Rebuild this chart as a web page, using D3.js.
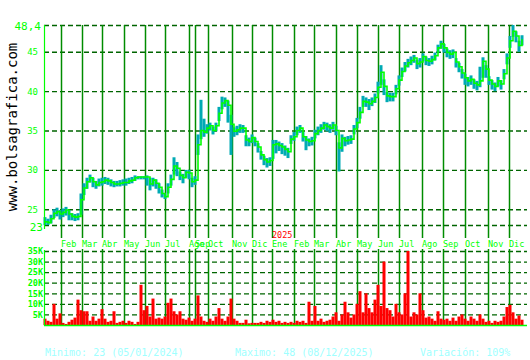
<!DOCTYPE html>
<html>
<head>
<meta charset="utf-8">
<script src="https://cdn.jsdelivr.net/npm/d3@7"></script>
<style>
  body { margin: 0; background: #fff; }
  svg { display: block; }
  text { font-family: "DejaVu Sans Mono", "Liberation Mono", monospace; }
</style>
</head>
<body>
<div id="chart"></div>
<script>
// sessions are counted from the first trading day, one point every 3 sessions
const firstSession = 1;
const sessionStep = 3;
const totalSessions = 480;

// month boundaries (session index) and labels
const monthSessions = [17, 38, 58, 80, 101, 121, 145, 151, 164, 188, 208, 228, 250, 270, 292, 313, 334, 355, 378, 399, 421, 444, 465];
const monthLabels = ["Feb", "Mar", "Abr", "May", "Jun", "Jul", "Ago", "Sep", "Oct", "Nov", "Dic", "Ene", "Feb", "Mar", "Abr", "May", "Jun", "Jul", "Ago", "Sep", "Oct", "Nov", "Dic"];
const yearLabel = "2025";
const yearMonthIndex = 11;

const closes = [
  23.4, 23.3, 23.8, 24.5, 24.7, 24.4, 24.6, 24.9, 24.4, 24.1,
  24.0, 24.1, 26.2, 27.7, 28.5, 29.0, 28.5, 28.1, 28.4, 28.5,
  28.7, 28.6, 28.4, 28.2, 28.2, 28.3, 28.4, 28.4, 28.6, 28.7,
  29.0, 29.1, 29.1, 29.1, 29.1, 28.2, 28.7, 28.3, 27.8, 27.0,
  26.6, 27.8, 28.8, 30.5, 30.2, 29.3, 29.0, 29.7, 29.6, 28.5,
  28.7, 33.2, 35.0, 34.8, 35.3, 35.6, 35.0, 35.6, 37.2, 38.5,
  38.8, 38.2, 35.8, 34.9, 35.1, 35.3, 35.3, 33.8, 33.6, 34.1,
  33.6, 32.9, 31.9, 31.3, 31.0, 31.2, 33.2, 33.3, 33.1, 32.9,
  32.6, 32.3, 33.9, 34.2, 35.0, 35.3, 34.2, 33.8, 33.6, 33.7,
  34.6, 35.0, 35.3, 35.7, 35.5, 35.3, 35.7, 35.0, 32.8, 34.0,
  33.7, 33.8, 33.9, 35.2, 36.0, 37.3, 38.7, 38.6, 38.4, 38.7,
  39.2, 40.5, 42.4, 40.6, 39.4, 39.3, 39.3, 40.3, 41.4, 42.5,
  43.2, 43.6, 43.9, 44.2, 43.5, 43.7, 44.4, 43.9, 43.8, 44.0,
  44.5, 45.5, 46.0, 45.5, 44.9, 44.7, 44.9, 43.7, 43.1, 42.3,
  41.7, 41.3, 41.5, 41.0, 40.8, 41.3, 43.8, 42.8, 41.4, 40.9,
  40.6, 41.3, 40.9, 42.2, 44.2, 46.4, 47.6, 47.0, 45.8, 46.6
];

const highs = [
  24.0, 23.8, 24.3, 25.0, 25.2, 24.9, 25.1, 25.3, 24.9, 24.5,
  24.4, 24.5, 27.0, 28.3, 29.0, 29.4, 29.0, 28.6, 28.9, 29.0,
  29.1, 29.0, 28.8, 28.6, 28.6, 28.7, 28.8, 28.9, 29.0, 29.1,
  29.3, 29.2, 29.2, 29.2, 29.3, 29.0, 29.0, 28.8, 28.3, 27.5,
  27.0, 28.3, 29.4, 31.6, 31.0, 29.8, 29.5, 30.0, 30.0, 29.0,
  29.2, 34.5, 38.9, 36.5, 35.8, 36.0, 35.5, 36.0, 38.0, 39.3,
  39.2, 38.8, 37.0, 35.4, 35.6, 35.8, 35.7, 34.4, 34.1, 34.5,
  34.1, 33.4, 32.4, 31.8, 31.5, 31.6, 33.8, 33.8, 33.6, 33.4,
  33.1, 32.8, 34.4, 34.8, 35.5, 35.7, 34.8, 34.3, 34.0, 34.2,
  35.1, 35.5, 35.8, 36.1, 36.0, 35.8, 36.1, 35.6, 33.5, 34.5,
  34.2, 34.3, 34.4, 35.7, 36.6, 38.0, 39.4, 39.2, 39.0, 39.2,
  39.7, 41.2, 43.3, 41.5, 39.9, 39.8, 39.8, 40.8, 42.0, 43.0,
  43.7, 44.1, 44.4, 44.6, 44.0, 44.2, 44.8, 44.4, 44.2, 44.5,
  44.9, 45.9, 46.4, 46.0, 45.4, 45.2, 45.3, 44.2, 43.6, 42.8,
  42.2, 41.8, 42.0, 41.5, 41.3, 43.1, 44.3, 43.3, 41.9, 41.4,
  41.1, 41.8, 41.4, 42.8, 44.8, 47.0, 48.4, 47.6, 46.4, 47.1
];

const lows = [
  23.0, 23.0, 23.2, 23.9, 24.1, 23.7, 24.0, 24.2, 23.6, 23.6,
  23.5, 23.6, 24.3, 26.8, 27.6, 28.4, 27.8, 27.6, 27.9, 28.0,
  28.2, 28.1, 27.9, 27.8, 27.9, 27.9, 28.0, 28.0, 28.2, 28.3,
  28.6, 28.8, 28.8, 28.8, 28.0, 27.4, 27.9, 27.6, 27.0, 26.5,
  26.3, 27.0, 28.0, 29.4, 29.2, 28.7, 28.3, 29.0, 28.8, 27.8,
  28.1, 31.9, 33.9, 34.2, 34.6, 35.0, 34.5, 34.9, 36.2, 37.7,
  38.0, 36.0, 31.9, 34.2, 34.4, 34.7, 34.7, 33.0, 33.0, 33.4,
  33.0, 32.2, 31.3, 30.6, 30.3, 30.5, 31.4, 32.1, 32.4, 32.0,
  31.8, 31.5, 33.3, 33.7, 34.4, 34.7, 33.6, 32.5, 33.0, 33.1,
  34.0, 34.4, 34.7, 35.1, 34.9, 34.7, 35.1, 34.4, 29.8, 32.3,
  33.0, 33.2, 33.3, 34.5, 35.3, 36.5, 38.0, 38.0, 37.6, 38.1,
  38.5, 39.7, 40.8, 39.5, 38.6, 38.7, 38.7, 39.6, 40.7, 41.8,
  42.5, 43.0, 43.3, 43.6, 42.8, 43.0, 43.8, 43.3, 43.2, 43.4,
  43.9, 44.9, 45.4, 44.9, 44.3, 44.1, 44.2, 43.0, 42.4, 41.6,
  40.8, 40.6, 40.8, 40.3, 40.1, 40.5, 41.7, 41.7, 40.8, 40.2,
  40.0, 40.6, 40.2, 41.5, 43.4, 45.5, 46.9, 46.2, 45.0, 45.8
];

// volume in thousands of shares
const volumes = [
  3, 2, 1.5, 10, 3, 5.5, 1, 0.5, 1.5, 2.5,
  3.5, 12, 7, 6.5, 6.5, 2, 4, 2, 3, 7.5,
  3, 1.5, 2, 6.5, 1, 1.5, 2, 1, 2, 1.5,
  0.5, 1.5, 19, 7, 9, 4, 12.5, 3, 3.5, 3,
  4, 10.5, 12.5, 6.5, 5, 6.5, 3, 2.5, 3.5, 2,
  3, 14, 4, 2, 1.5, 3, 2, 4, 8, 3,
  2, 4, 12.5, 3, 2, 1, 1, 2.5, 0.8, 1,
  1, 1, 1.5, 1, 2, 1.5, 2.5, 1.5, 2, 1,
  1.5, 1, 1.5, 1, 2, 1.5, 2, 1, 11, 2,
  9, 2, 3, 1.5, 2, 2.5, 4, 6, 2, 5,
  11, 6, 3.5, 5, 10, 16, 6, 15, 8, 6,
  12, 19, 9, 30, 8, 7, 4, 10, 6, 5,
  15, 35, 4, 6, 5, 15, 7, 3.5, 4, 3,
  2, 6.5, 3, 2.5, 3, 2, 3.5, 2, 4, 5,
  3, 2, 4, 3, 2, 5, 3, 1.5, 2, 1,
  2, 1.5, 2, 4, 8.5, 9.5, 6, 3, 4.5, 2.5
];

const priceTicks = [25, 30, 35, 40, 45];
const priceMin = 23, priceMax = 48.4;
const priceMinLabel = "23", priceMaxLabel = "48,4";
const volumeTicks = [5, 10, 15, 20, 25, 30, 35];
const footerTexts = ["Minimo: 23 (05/01/2024)", "Maximo: 48 (08/12/2025)", "Variación: 109%"];
const watermark = "www.bolsagrafica.com";

const lime = "#00ff00", gridV = "#008c00", gridH = "#006400", teal = "#00aab4", footColor = "#a0ffff";

const svg = d3.select("#chart").append("svg")
  .attr("width", 530).attr("height", 360)
  .style("background", "#fff");

const left = 44, right = 527;
const x = d3.scaleLinear().domain([0, totalSessions]).range([left, 524]);
const yP = d3.scaleLinear().domain([priceMin, priceMax]).range([225, 25]);
const yV = d3.scaleLinear().domain([0, 35]).range([325, 251]);

const sessionOf = i => firstSession + i * sessionStep;

// horizontal dashed grid, price panel
svg.append("g")
  .attr("transform", `translate(${left},0)`)
  .call(d3.axisRight(yP).tickValues([priceMin].concat(priceTicks, [priceMax])).tickSize(right - left).tickFormat(""))
  .call(g => g.select(".domain").remove())
  .call(g => g.selectAll("line").attr("stroke", gridH).attr("stroke-width", 1.3).attr("stroke-dasharray", "5,3"));

// horizontal dashed grid, volume panel
svg.append("g")
  .attr("transform", `translate(${left},0)`)
  .call(d3.axisRight(yV).tickValues(volumeTicks).tickSize(right - left).tickFormat(""))
  .call(g => g.select(".domain").remove())
  .call(g => g.selectAll("line").attr("stroke", gridH).attr("stroke-width", 1.3).attr("stroke-dasharray", "5,3"));

// month separators
const months = monthSessions.map((s, i) => ({ s: s, label: monthLabels[i] }));
svg.selectAll(".mline-top").data(months).enter().append("line")
  .attr("x1", d => Math.round(x(d.s)) + 0.5).attr("x2", d => Math.round(x(d.s)) + 0.5)
  .attr("y1", 25).attr("y2", 238)
  .attr("stroke", gridV).attr("stroke-width", 1.5);
svg.selectAll(".mline-bot").data(months).enter().append("line")
  .attr("x1", d => Math.round(x(d.s)) + 0.5).attr("x2", d => Math.round(x(d.s)) + 0.5)
  .attr("y1", 249).attr("y2", 325)
  .attr("stroke", gridV).attr("stroke-width", 1.5);

// month labels
svg.selectAll(".mlabel").data(months).enter().append("text")
  .attr("x", d => Math.round(x(d.s)))
  .attr("y", 247)
  .attr("fill", lime)
  .style("font-size", "8.5px")
  .text(d => d.label);

svg.append("text")
  .attr("x", Math.round(x(monthSessions[yearMonthIndex])))
  .attr("y", 238)
  .attr("fill", "#ff0000")
  .style("font-size", "8.5px")
  .text(yearLabel);

// high-low band
svg.selectAll(".band").data(closes).enter().append("rect")
  .attr("x", (d, i) => x(sessionOf(i)) - 1.5)
  .attr("width", 3)
  .attr("y", (d, i) => yP(highs[i]))
  .attr("height", (d, i) => Math.max(1, yP(lows[i]) - yP(highs[i])))
  .attr("fill", teal);

// close line
const line = d3.line()
  .x((d, i) => x(sessionOf(i)))
  .y(d => yP(d))
  .curve(d3.curveStepAfter);
svg.append("path")
  .datum(closes)
  .attr("d", line)
  .attr("fill", "none")
  .attr("stroke", lime)
  .attr("stroke-width", 1.6);

// volume bars
svg.selectAll(".vol").data(volumes).enter().append("rect")
  .attr("x", (d, i) => x(sessionOf(i)) - 1.5)
  .attr("width", 3)
  .attr("y", d => yV(d))
  .attr("height", d => yV(0) - yV(d))
  .attr("fill", "#ff0000");

// axis lines
svg.append("line").attr("x1", left + 0.5).attr("x2", left + 0.5).attr("y1", 25).attr("y2", 229)
  .attr("stroke", lime).attr("stroke-width", 1.2);
svg.append("line").attr("x1", left + 0.5).attr("x2", left + 0.5).attr("y1", 250).attr("y2", 326)
  .attr("stroke", lime).attr("stroke-width", 1.2);
svg.append("line").attr("x1", left).attr("x2", right).attr("y1", 325.5).attr("y2", 325.5)
  .attr("stroke", lime).attr("stroke-width", 1.5);

// price tick labels
svg.append("g")
  .attr("transform", `translate(${left - 4},0)`)
  .call(d3.axisLeft(yP).tickValues(priceTicks).tickSize(0).tickPadding(2).tickFormat(d3.format("d")))
  .call(g => g.select(".domain").remove())
  .call(g => g.selectAll("text").attr("fill", lime).style("font-size", "9px")
    .style("font-family", "'DejaVu Sans Mono', monospace"));

svg.append("text").attr("x", left - 3).attr("y", yP(priceMax) + 5)
  .attr("text-anchor", "end").attr("fill", lime).style("font-size", "11px").text(priceMaxLabel);
svg.append("text").attr("x", left - 1).attr("y", yP(priceMin) + 6)
  .attr("text-anchor", "end").attr("fill", lime).style("font-size", "11px").text(priceMinLabel);

// volume tick labels
svg.append("g")
  .attr("transform", `translate(${left},0)`)
  .call(d3.axisLeft(yV).tickValues(volumeTicks).tickSize(0).tickPadding(1).tickFormat(d => d + "K"))
  .call(g => g.select(".domain").remove())
  .call(g => g.selectAll("text").attr("fill", lime).style("font-size", "8.5px").style("font-weight", "bold")
    .style("font-family", "'DejaVu Sans Mono', monospace"));

// watermark
svg.append("text")
  .attr("transform", "translate(17,127) rotate(-90)")
  .attr("text-anchor", "middle")
  .attr("fill", "#000")
  .style("font-size", "14px")
  .text(watermark);

// footer
const footerX = [45, 235, 420];
svg.selectAll(".foot").data(footerTexts).enter().append("text")
  .attr("x", (d, i) => footerX[i])
  .attr("y", 356)
  .attr("fill", footColor)
  .style("font-size", "10px")
  .text(d => d);
</script>
</body>
</html>
